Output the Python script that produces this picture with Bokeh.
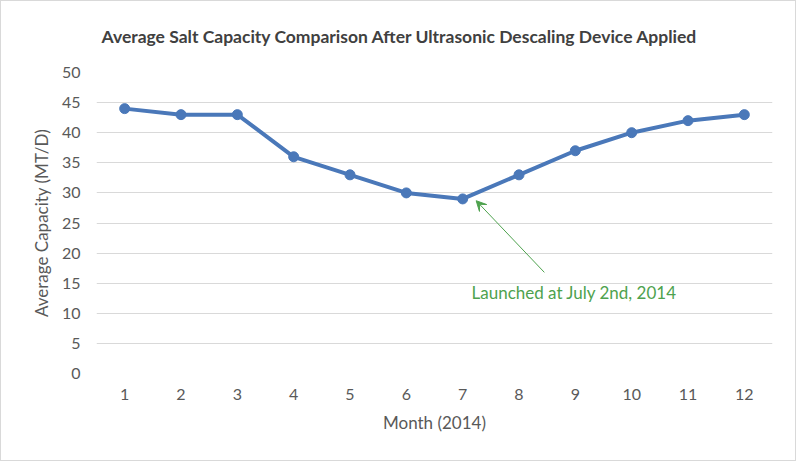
from bokeh.plotting import figure
from bokeh.models import Range1d, FixedTicker, Arrow, VeeHead, Label, Title
from bokeh.embed import file_html
from bokeh.resources import INLINE

months = [1, 2, 3, 4, 5, 6, 7, 8, 9, 10, 11, 12]
capacity = [44, 43, 43, 36, 33, 30, 29, 33, 37, 40, 42, 43]
y_ticks = [0, 5, 10, 15, 20, 25, 30, 35, 40, 45, 50]
title_text = "Average Salt Capacity Comparison After Ultrasonic Descaling Device Applied"
note_text = "Launched at July 2nd, 2014"
arrow_start = (8.45, 16.8)
arrow_end = (7.24, 28.7)
note_pos = (8.98, 13.5)

FONT = "Lato"
BLUE = "#4a78b9"
GREEN = "#4ea24e"

p = figure(width=796, height=461, output_backend="svg", toolbar_location=None,
           x_range=Range1d(0.5, 12.5), y_range=Range1d(0, 50),
           min_border_left=95, min_border_right=25, min_border_top=71, min_border_bottom=89)
p.outline_line_color = None
p.styles = {"border": "1px solid #d9d9d9"}

p.title = Title(text=title_text, align="left", offset=5, vertical_align="top",
                text_font=FONT, text_font_size="17.5px", text_font_style="bold",
                text_color="#404040", standoff=47)

p.xgrid.grid_line_color = None
p.ygrid.grid_line_color = "#d9d9d9"
p.ygrid.grid_line_width = 1

p.xaxis.ticker = FixedTicker(ticks=months)
p.yaxis.ticker = FixedTicker(ticks=y_ticks)
for ax in (p.xaxis, p.yaxis):
    ax.axis_line_color = None
    ax.major_tick_line_color = None
    ax.minor_tick_line_color = None
    ax.major_tick_out = 0
    ax.major_tick_in = 0
    ax.major_label_text_font = FONT
    ax.major_label_text_font_size = "16px"
    ax.major_label_text_color = "#595959"
    ax.axis_label_text_font = FONT
    ax.axis_label_text_font_size = "17px"
    ax.axis_label_text_font_style = "normal"
    ax.axis_label_text_color = "#595959"

p.xaxis.axis_label = "Month (2014)"
p.yaxis.axis_label = "Average Capacity (MT/D)"
p.xaxis.major_label_standoff = 15
p.xaxis.axis_label_standoff = 9
p.yaxis.major_label_standoff = 16
p.yaxis.axis_label_standoff = 7

p.line(months, capacity, line_color=BLUE, line_width=4)
p.scatter(months, capacity, size=10, fill_color=BLUE, line_color=BLUE)

p.add_layout(Arrow(x_start=arrow_start[0], y_start=arrow_start[1], x_end=arrow_end[0], y_end=arrow_end[1],
                   line_color=GREEN, line_width=1,
                   end=VeeHead(size=10, fill_color=GREEN, line_color=GREEN)))
p.add_layout(Label(x=note_pos[0], y=note_pos[1], text=note_text, text_align="center",
                   text_baseline="middle", text_font=FONT, text_font_size="17px", text_color=GREEN))

open("out.html", "w").write(file_html(p, INLINE))
